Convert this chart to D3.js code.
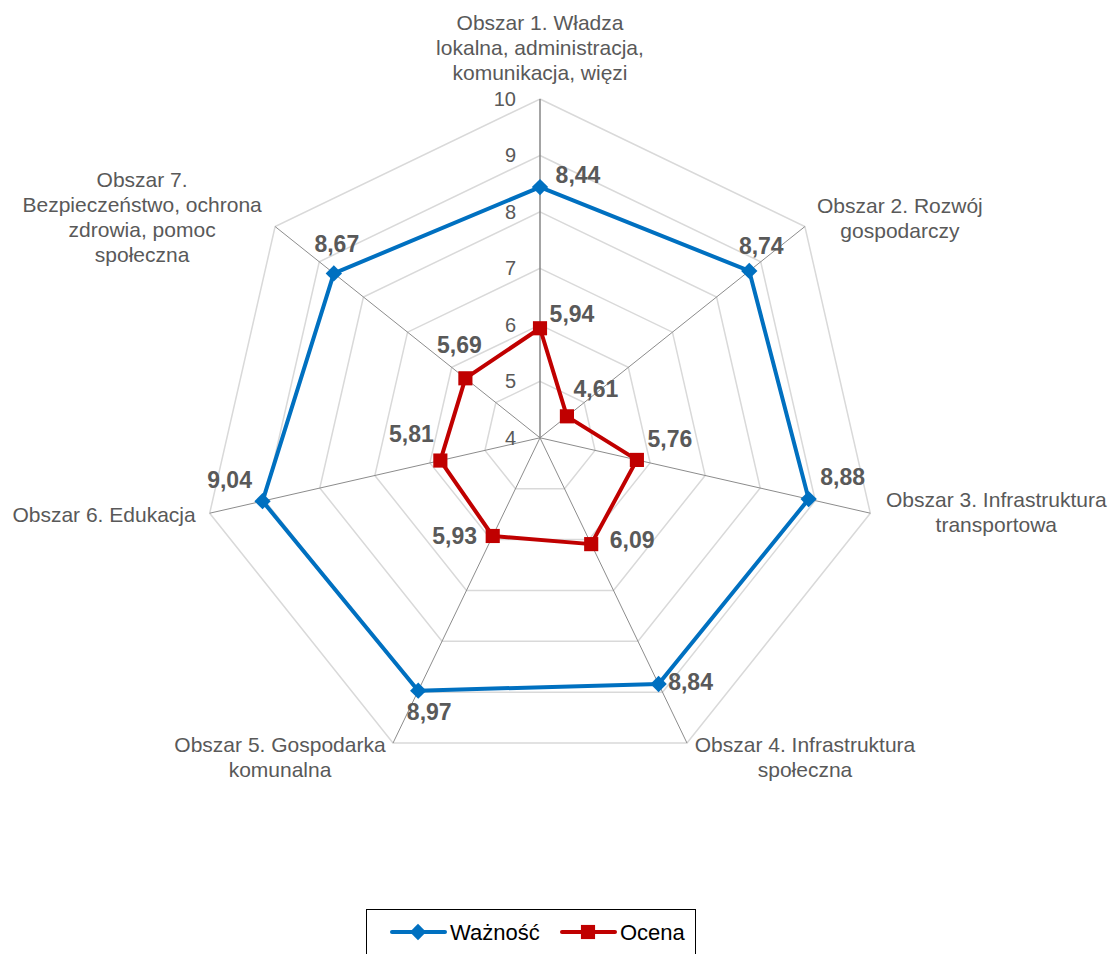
<!DOCTYPE html>
<html>
<head>
<meta charset="utf-8">
<script src="https://cdn.jsdelivr.net/npm/d3@7"></script>
<style>
  body { margin: 0; background: #fff; }
  text { font-family: "Liberation Sans", Arial, sans-serif; }
</style>
</head>
<body>
<div class="canva"></div>
<script>
const axes = [
  ['Obszar 1. Władza', 'lokalna, administracja,', 'komunikacja, więzi'],
  ['Obszar 2. Rozwój', 'gospodarczy'],
  ['Obszar 3. Infrastruktura', 'transportowa'],
  ['Obszar 4. Infrastruktura', 'społeczna'],
  ['Obszar 5. Gospodarka', 'komunalna'],
  ['Obszar 6. Edukacja'],
  ['Obszar 7.', 'Bezpieczeństwo, ochrona', 'zdrowia, pomoc', 'społeczna']
];
const waznosc = [8.44, 8.74, 8.88, 8.84, 8.97, 9.04, 8.67];
const ocena = [5.94, 4.61, 5.76, 6.09, 5.93, 5.81, 5.69];
const ticks = [4, 5, 6, 7, 8, 9, 10];

// label placement (relative to point / outer vertex)
const waznoscLabelOff = [[38, -12], [12, -25], [34, -22], [32, -2], [11, 21], [-33, -21], [3, -29]];
const ocenaLabelOff = [[32, -14], [29, -27], [33, -21], [41, -4], [-38, 0], [-29, -27], [-6, -33]];
const axisLabelPos = [
  {a: 'middle', dx: 0, dy: -69},
  {a: 'middle', dx: 95, dy: -14},
  {a: 'middle', dx: 126, dy: -6},
  {a: 'middle', dx: 118, dy: 9},
  {a: 'middle', dx: -113, dy: 9},
  {a: 'end', dx: -14, dy: 9},
  {a: 'middle', dx: -133, dy: -40}
];

const width = 1112, height = 954;
const cx = 540, cy = 437.8, R = 338.8;

const svg = d3.select('.canva').append('svg')
  .attr('width', width)
  .attr('height', height);

const r = d3.scaleLinear().domain([4, 10]).range([0, R]);
const angle = d3.scaleLinear().domain([0, axes.length]).range([0, 2 * Math.PI]);

const pt = (i, v) => [cx + r(v) * Math.sin(angle(i)), cy - r(v) * Math.cos(angle(i))];

const graph = svg.append('g');

// grid polygons
graph.selectAll('.grid')
  .data(ticks.slice(1))
  .enter().append('polygon')
  .attr('points', t => axes.map((d, i) => pt(i, t).join(',')).join(' '))
  .attr('fill', 'none')
  .attr('stroke', '#d9d9d9')
  .attr('stroke-width', 1.5);

// spokes
graph.selectAll('.spoke')
  .data(axes)
  .enter().append('line')
  .attr('x1', cx).attr('y1', cy)
  .attr('x2', (d, i) => pt(i, 10)[0])
  .attr('y2', (d, i) => pt(i, 10)[1])
  .attr('stroke', (d, i) => i === 0 ? '#868686' : '#8c8c8c')
  .attr('stroke-width', (d, i) => i === 0 ? 1.5 : 1);

// tick labels
graph.selectAll('.tick')
  .data(ticks)
  .enter().append('text')
  .attr('x', cx - 24)
  .attr('y', t => pt(0, t)[1] + 7)
  .attr('text-anchor', 'end')
  .attr('font-size', 20)
  .attr('fill', '#595959')
  .text(t => t);

// axis labels
axes.forEach((lines, i) => {
  const p = pt(i, 10), o = axisLabelPos[i];
  const t = graph.append('text')
    .attr('text-anchor', o.a)
    .attr('font-size', 21)
    .attr('fill', '#595959');
  lines.forEach((l, k) => {
    t.append('tspan')
      .attr('x', p[0] + o.dx)
      .attr('y', p[1] + o.dy + k * 25)
      .text(l);
  });
});

const line = d3.line().curve(d3.curveLinearClosed);

function drawSeries(values, color, shape, size, offs) {
  const pts = values.map((v, i) => pt(i, v));
  graph.append('path')
    .attr('d', line(pts))
    .attr('fill', 'none')
    .attr('stroke', color)
    .attr('stroke-width', 4)
    .attr('stroke-linejoin', 'round');
  graph.selectAll(null)
    .data(pts)
    .enter().append('path')
    .attr('d', d3.symbol().type(shape).size(size))
    .attr('transform', d => `translate(${d[0]},${d[1]})${shape === d3.symbolDiamond2 ? '' : ''}`)
    .attr('fill', color);
  graph.selectAll(null)
    .data(values)
    .enter().append('text')
    .attr('x', (v, i) => pts[i][0] + offs[i][0])
    .attr('y', (v, i) => pts[i][1] + offs[i][1] + 8)
    .attr('text-anchor', 'middle')
    .attr('font-size', 23)
    .attr('font-weight', 'bold')
    .attr('fill', '#595959')
    .text(v => d3.format('.2f')(v).replace('.', ','));
}

drawSeries(waznosc, '#0070C0', d3.symbolDiamond2, 170, waznoscLabelOff);
drawSeries(ocena, '#C00000', d3.symbolSquare, 200, ocenaLabelOff);

// legend
const legend = svg.append('g');
legend.append('rect')
  .attr('x', 366.5).attr('y', 909.5)
  .attr('width', 329).attr('height', 50)
  .attr('fill', 'none').attr('stroke', '#000').attr('stroke-width', 1);

const items = [
  {name: 'Ważność', color: '#0070C0', shape: d3.symbolDiamond2, size: 170, x: 392},
  {name: 'Ocena', color: '#C00000', shape: d3.symbolSquare, size: 200, x: 562}
];
items.forEach(it => {
  legend.append('line')
    .attr('x1', it.x).attr('x2', it.x + 53)
    .attr('y1', 932).attr('y2', 932)
    .attr('stroke', it.color).attr('stroke-width', 4).attr('stroke-linecap', 'round');
  legend.append('path')
    .attr('d', d3.symbol().type(it.shape).size(it.size))
    .attr('transform', `translate(${it.x + 26},932)`)
    .attr('fill', it.color);
  legend.append('text')
    .attr('x', it.x + 58).attr('y', 940)
    .attr('font-family', 'Lato, "Open Sans", sans-serif')
    .attr('font-size', 22)
    .attr('fill', '#000')
    .text(it.name);
});
</script>
</body>
</html>
